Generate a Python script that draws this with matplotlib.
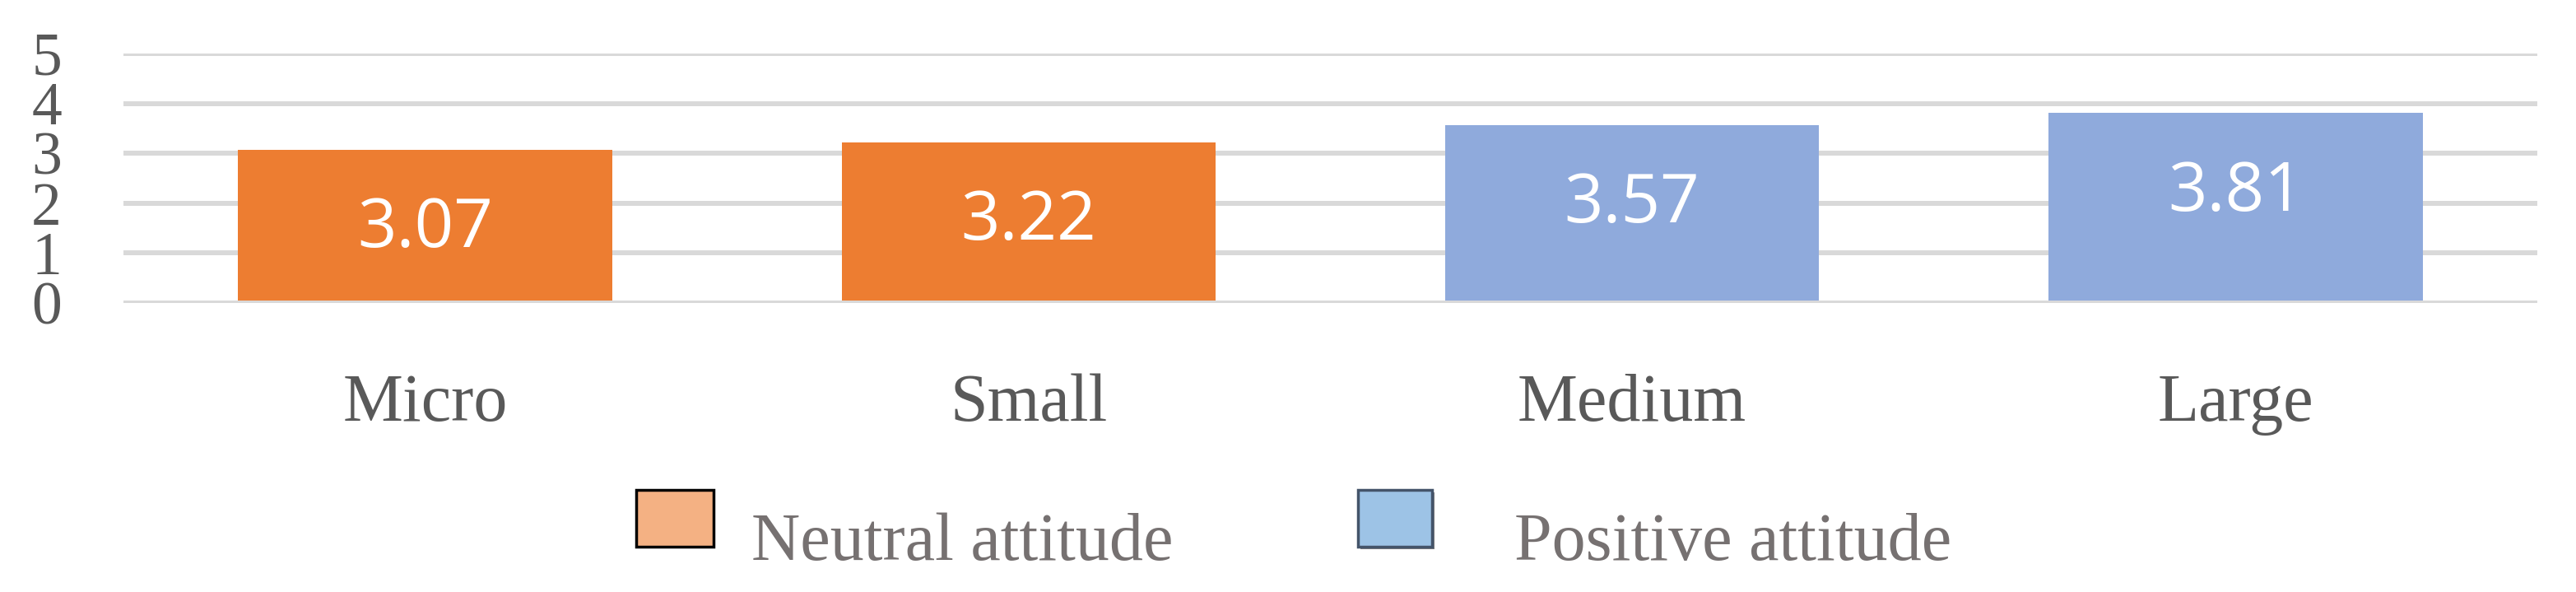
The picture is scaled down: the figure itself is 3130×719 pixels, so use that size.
import matplotlib
matplotlib.use("Agg")
import matplotlib.pyplot as plt
from matplotlib.patches import Rectangle
from matplotlib.transforms import blended_transform_factory

# data
categories = ["Micro", "Small", "Medium", "Large"]
scores = [3.07, 3.22, 3.57, 3.81]
attitude = ["neutral", "neutral", "positive", "positive"]
yticks = [0, 1, 2, 3, 4, 5]
legend_labels = ["Neutral attitude", "Positive attitude"]

bar_colors = {"neutral": "#ED7D31", "positive": "#8FAADC"}

W, H, DPI = 3130, 719, 100
fig = plt.figure(figsize=(W / DPI, H / DPI), dpi=DPI)


def fx(px):
    return px / W


def fy(py):
    return 1 - py / H


# plot area in pixels: x 150..3083, y 65 (5) .. 368 (0)
ax = fig.add_axes([fx(150), fy(368), fx(3083) - fx(150), fy(65) - fy(368)])
ax.set_xlim(-0.5, len(categories) - 0.5)
ax.set_ylim(0, 5)
for s in ax.spines.values():
    s.set_visible(False)

for v in yticks:
    ax.axhline(v, color="#D9D9D9", linewidth=4.3, zorder=3 if v == 0 else 1)

x = list(range(len(categories)))
ax.bar(x, scores, width=0.62, color=[bar_colors[a] for a in attitude], zorder=2)

for xi, v in zip(x, scores):
    ax.annotate(f"{v:.2f}", (xi, v), xytext=(0, -70), textcoords="offset points",
                ha="center", va="center", color="white", fontsize=60,
                family="Open Sans", zorder=4)

ax.set_xticks([])
ax.set_yticks(yticks)
ax.set_yticklabels([str(t) for t in yticks], family="Liberation Serif",
                   fontsize=53, color="#595959")
ax.tick_params(axis="y", length=0, pad=54)

tr = blended_transform_factory(ax.transData, ax.transAxes)
for xi, c in zip(x, categories):
    ax.text(xi, (368 - 511) / 303, c, transform=tr, ha="center", va="baseline",
            family="Liberation Serif", fontsize=59, color="#595959")

# legend drawn by hand to mimic the layout
fig.add_artist(Rectangle((fx(773), fy(664)), fx(867) - fx(773), fy(595) - fy(664),
                         transform=fig.transFigure, facecolor="#F4B183",
                         edgecolor="black", linewidth=2.5))
fig.add_artist(Rectangle((fx(1653), fy(667)), fx(1743) - fx(1653), fy(598) - fy(667),
                         transform=fig.transFigure, facecolor="#7F7F7F",
                         edgecolor="none"))
fig.add_artist(Rectangle((fx(1650), fy(664)), fx(1740) - fx(1650), fy(595) - fy(664),
                         transform=fig.transFigure, facecolor="#9DC3E6",
                         edgecolor="#44546A", linewidth=2.5))
fig.text(fx(913), fy(680), legend_labels[0], ha="left", va="baseline",
         family="Liberation Serif", fontsize=59, color="#767171")
fig.text(fx(1840), fy(680), legend_labels[1], ha="left", va="baseline",
         family="Liberation Serif", fontsize=59, color="#767171")

fig.savefig("out.png", dpi=DPI)
